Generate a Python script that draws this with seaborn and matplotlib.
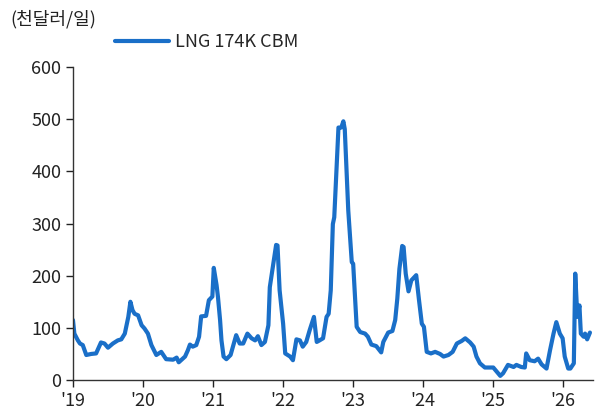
import matplotlib
matplotlib.use("Agg")
import matplotlib.pyplot as plt
import seaborn as sns
import pandas as pd

# decimal year positions and rates (thousand USD / day)
years = [
    2019.00, 2019.02, 2019.07, 2019.10, 2019.14, 2019.19, 2019.26, 2019.33,
    2019.40, 2019.45, 2019.50, 2019.57, 2019.64, 2019.69, 2019.74, 2019.79,
    2019.82, 2019.85, 2019.88, 2019.93, 2019.98, 2020.02, 2020.07, 2020.12,
    2020.19, 2020.26, 2020.33, 2020.43, 2020.48, 2020.51, 2020.60, 2020.64,
    2020.67, 2020.71, 2020.76, 2020.80, 2020.83, 2020.90, 2020.94, 2020.99,
    2021.01, 2021.05, 2021.07, 2021.10, 2021.12, 2021.15, 2021.19, 2021.25,
    2021.29, 2021.33, 2021.38, 2021.43, 2021.49, 2021.55, 2021.60, 2021.64,
    2021.69, 2021.74, 2021.79, 2021.81, 2021.86, 2021.90, 2021.92, 2021.95,
    2022.00, 2022.03, 2022.10, 2022.14, 2022.19, 2022.24, 2022.28, 2022.33,
    2022.38, 2022.44, 2022.48, 2022.52, 2022.57, 2022.62, 2022.65, 2022.68,
    2022.71, 2022.73, 2022.79, 2022.83, 2022.86, 2022.88, 2022.93, 2022.98,
    2023.00, 2023.05, 2023.10, 2023.17, 2023.21, 2023.26, 2023.33, 2023.40,
    2023.43, 2023.50, 2023.56, 2023.60, 2023.63, 2023.66, 2023.70, 2023.72,
    2023.75, 2023.79, 2023.83, 2023.90, 2023.94, 2023.98, 2024.01, 2024.05,
    2024.11, 2024.17, 2024.24, 2024.29, 2024.36, 2024.42, 2024.48, 2024.55,
    2024.60, 2024.67, 2024.72, 2024.76, 2024.81, 2024.88, 2025.00, 2025.05,
    2025.10, 2025.14, 2025.21, 2025.29, 2025.33, 2025.40, 2025.45, 2025.47,
    2025.52, 2025.59, 2025.64, 2025.69, 2025.76, 2025.81, 2025.86, 2025.90,
    2025.95, 2025.99, 2026.02, 2026.07, 2026.10, 2026.15, 2026.17, 2026.20,
    2026.23, 2026.25, 2026.29, 2026.31, 2026.34, 2026.38,
]
rates = [
    115, 89, 76, 70, 67, 48, 50, 51,
    72, 70, 62, 70, 76, 78, 89, 121,
    150, 134, 127, 124, 105, 99, 89, 67,
    48, 54, 40, 39, 43, 34, 45, 57,
    68, 64, 67, 83, 122, 123, 153, 160,
    215, 182, 159, 115, 76, 45, 40, 48,
    67, 86, 70, 70, 89, 80, 76, 84,
    67, 73, 105, 178, 223, 259, 258, 172,
    108, 51, 45, 38, 78, 76, 64, 73,
    96, 121, 73, 76, 80, 121, 127, 172,
    299, 312, 484, 484, 496, 481, 325, 226,
    223, 102, 92, 89, 83, 68, 65, 53,
    73, 91, 94, 115, 156, 213, 257, 255,
    204, 170, 191, 201, 153, 108, 102, 54,
    51, 54, 50, 45, 48, 54, 70, 75,
    80, 72, 64, 45, 32, 24, 24, 16,
    8, 13, 29, 25, 29, 25, 24, 51,
    38, 36, 41, 30, 22, 57, 89, 111,
    89, 80, 45, 22, 22, 32, 204, 121,
    143, 89, 83, 89, 78, 91,
]
year_ticks = [2019, 2020, 2021, 2022, 2023, 2024, 2025, 2026]
tick_labels = ["'19", "'20", "'21", "'22", "'23", "'24", "'25", "'26"]
series_name = "LNG 174K CBM"

df = pd.DataFrame({"year": years, "rate": rates})

sns.set_theme(style="white")
plt.rcParams["font.family"] = ["Noto Sans CJK KR", "DejaVu Sans"]

fig = plt.figure(figsize=(6.03, 4.19), dpi=100)
ax = fig.add_axes([0.121, 0.093, 0.862, 0.747])

sns.lineplot(data=df, x="year", y="rate", ax=ax, color="#1a6fc8",
             linewidth=3, label=series_name)

ax.set_xlim(2019.0, 2026.42)
ax.set_ylim(0, 600)
ax.set_xticks(year_ticks)
ax.set_xticklabels(tick_labels)
ax.set_yticks(range(0, 601, 100))
ax.set_xlabel("")
ax.set_ylabel("")
ax.tick_params(axis="both", labelsize=13, colors="#222222", length=5,
               width=1, direction="out", left=True, bottom=True)
for side in ["top", "right"]:
    ax.spines[side].set_visible(False)
for side in ["left", "bottom"]:
    ax.spines[side].set_color("#333333")
    ax.spines[side].set_linewidth(1)

ax.legend(loc="upper left", bbox_to_anchor=(0.05, 1.16), frameon=False,
          fontsize=13, handlelength=3.0, handletextpad=0.3)
fig.text(0.018, 0.955, "(천달러/일)", fontsize=13, color="#222222",
         va="center", ha="left")

fig.savefig("out.png", dpi=100)
